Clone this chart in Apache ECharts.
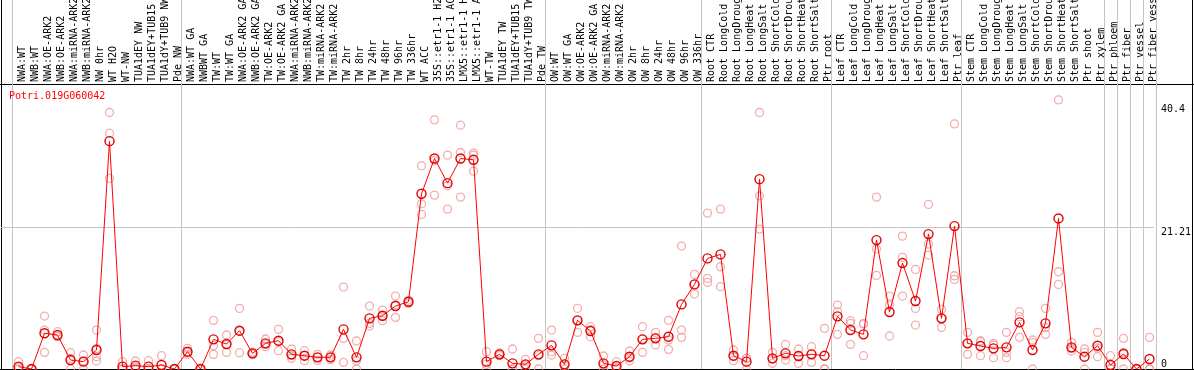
<!DOCTYPE html>
<html><head><meta charset="utf-8">
<script src="https://cdn.jsdelivr.net/npm/echarts@6/dist/echarts.min.js"></script>
<style>html,body{margin:0;padding:0;background:#fff}#c{width:1194px;height:370px}</style>
</head><body><div id="c"></div>
<script>
const geneName = 'Potri.019G060042';
const categories = [
 'NWA:WT','NWB:WT','NWA:OE-ARK2','NWB:OE-ARK2','NWA:miRNA-ARK2','NWB:miRNA-ARK2','NW 0hr','WT H2O','WT-NW','TUA1dEY NW','TUA1dEY+TUB15','TUA1dY+TUB9 NW','Pde NW',
 'NWA:WT GA','NWBWT GA','TW:WT','TW:WT GA','NWA:OE-ARK2 GA','NWB:OE-ARK2 GA','TW:OE-ARK2','TW:OE-ARK2 GA','NWA:miRNA-ARK2 GA','NWB:miRNA-ARK2 GA','TW:miRNA-ARK2','TW:miRNA-ARK2','TW 2hr','TW 8hr','TW 24hr','TW 48hr','TW 96hr','TW 336hr','WT ACC','35S::etr1-1 H2O','35S::etr1-1 ACC','LMX5::etr1-1 H2O','LMX5::etr1-1 ACC','WT-TW','TUA1dEY TW','TUA1dEY+TUB15','TUA1dY+TUB9 TW','Pde TW',
 'OW:WT','OW:WT GA','OW:OE-ARK2','OW:OE-ARK2 GA','OW:miRNA-ARK2','OW:miRNA-ARK2','OW 2hr','OW 8hr','OW 24hr','OW 48hr','OW 96hr','OW 336hr',
 'Root CTR','Root LongCold','Root LongDrought','Root LongHeat','Root LongSalt','Root ShortCold','Root ShortDrought','Root ShortHeat','Root ShortSalt','Ptr root',
 'Leaf CTR','Leaf LongCold','Leaf LongDrought','Leaf LongHeat','Leaf LongSalt','Leaf ShortCold','Leaf ShortDrought','Leaf ShortHeat','Leaf ShortSalt','Ptr leaf',
 'Stem CTR','Stem LongCold','Stem LongDrought','Stem LongHeat','Stem LongSalt','Stem ShortCold','Stem ShortDrought','Stem ShortHeat','Stem ShortSalt','Ptr shoot','Ptr xylem',
 'Ptr phloem','Ptr fiber','Ptr vessel','Ptr fiber vessel'
];
const groupStarts = [0,13,41,53,63,73,84,85,86,87];
const yTickLabels = [0, 21.21, 40.4];
const yRefLine = [21.21];
const yMax = 42.63;

const meanValues = [
 0.35,0,5.36,5.1,1.35,1.1,2.85,34.2,0.35,0.5,0.35,0.6,0,
 2.6,0,4.45,3.75,5.75,2.35,3.85,4.25,2.2,2.0,1.75,1.75,5.95,1.75,7.6,8.0,9.45,10.1,26.3,31.6,27.9,31.6,31.4,1.1,2.2,0.85,0.7,2.2,
 3.55,0.7,7.3,5.7,0.85,0.45,1.85,4.45,4.6,4.85,9.7,12.7,
 16.6,17.2,2.0,1.1,28.5,1.6,2.35,1.95,2.2,2.0,
 7.9,5.85,5.2,19.35,8.55,15.9,10.2,20.25,7.6,21.45,
 3.85,3.45,3.1,3.25,7.0,2.85,6.85,22.6,3.25,1.85,3.5,
 0.6,2.25,0,1.5
];
const repHigh = [
 1.1,0,7.95,5.6,2.45,2.1,5.85,38.5,1.1,1.2,1.25,2.0,0,
 3.1,0,7.3,5.1,9.1,2.5,4.5,5.95,3.0,2.75,2.2,2.1,12.3,4.2,9.45,8.85,10.95,10.35,30.5,37.4,32.1,36.6,32.4,2.6,2.4,3.0,1.45,4.6,
 5.85,1.6,9.1,6.35,1.95,1.1,2.7,6.35,5.5,7.3,18.45,14.2,
 23.4,24.0,2.85,1.6,38.5,2.5,3.7,3.0,3.35,6.1,
 9.6,7.25,6.85,25.8,10.95,19.95,14.95,24.7,8.95,36.8,
 5.5,4.25,3.85,5.5,8.6,4.35,9.1,40.4,4.0,3.0,5.5,
 2.0,4.6,0,4.75
];
const repMid = [
 0.3,0,5.85,4.85,1.6,1.2,3.1,35.4,0,0.3,0,0,0,
 2.5,0,3.5,3.65,5.7,2.3,3.7,4.1,2.0,2.0,1.75,1.75,4.6,1.25,6.85,7.9,9.65,10.1,24.8,31.3,27.5,32.5,32.1,0.7,2.2,0,0.6,2.0,
 2.6,0.5,7.3,5.9,0.6,0.25,1.65,4.5,4.7,4.35,5.85,12.7,
 13.6,15.35,1.9,1.6,26.0,1.5,2.0,2.0,2.25,0,
 8.6,6.85,6.75,18.0,9.6,16.75,9.1,18.75,7.6,14.0,
 3.85,4.1,3.6,2.5,7.85,3.95,6.25,14.6,3.1,2.5,3.15,
 0,2.5,0,0
];
const repLow = [
 0,0,2.5,4.9,0,0,1.85,28.6,0,0,0,0,0,
 2.2,0,2.2,2.5,2.45,2.2,3.35,2.75,1.6,1.25,1.3,1.4,1.0,0,6.45,7.25,7.75,9.85,23.2,26.1,24.0,25.8,29.7,0,2.0,0,0,0,
 2.1,0,5.5,4.85,0,0,1.2,2.5,3.6,2.95,4.75,11.25,
 13.0,12.35,1.25,0,21.0,0.85,1.35,0.85,1.0,0,
 5.2,3.7,2.0,14.05,4.95,10.95,6.6,17.1,6.25,13.45,
 2.2,2.0,1.7,1.7,4.75,0,5.2,12.7,2.7,0,1.85,
 0,0,0,0
];
const repExtra = categories.map((c, i) => i === 6 ? 1.2 : null);

const mono = 'DejaVu Sans Mono';
const isGroupStart = (idx) => groupStarts.indexOf(idx) >= 0;
const gridLine = {color: '#c4c4c4', width: 1};

const repPoints = [];
[repHigh, repMid, repLow, repExtra].forEach(arr => arr.forEach((v, i) => { if (v !== null) repPoints.push([i, v]); }));

const chart = echarts.init(document.getElementById('c'), null, {renderer: 'canvas'});
chart.setOption({
  animation: false,
  backgroundColor: '#fff',
  title: {text: geneName, left: 9, top: 91, padding: 0,
    textStyle: {color: '#ff0000', fontFamily: mono, fontSize: 10, fontWeight: 'normal'}},
  grid: [
    {left: 16, width: 1144, top: 0, height: 84},   // header labels
    {left: 12, width: 1144, top: 85, bottom: 1},   // plot
    {left: 1, right: 38, top: 85, bottom: 1},      // value axis + reference line
    {left: 12, width: 1144, top: 0, bottom: 1}     // group separators
  ],
  xAxis: [
    {gridIndex: 0, type: 'category', data: categories, boundaryGap: true,
     axisLine: {show: false}, axisTick: {show: false},
     axisLabel: {interval: 0, inside: true, rotate: 90, margin: 2,
       fontFamily: mono, fontSize: 10, color: '#000'},
     splitLine: {show: false}},
    {gridIndex: 1, type: 'category', data: categories, boundaryGap: true,
     axisLine: {show: false}, axisTick: {show: false}, axisLabel: {show: false}, splitLine: {show: false}},
    {gridIndex: 2, type: 'value', show: false, min: 0, max: 1},
    {gridIndex: 3, type: 'category', data: categories, boundaryGap: true,
     axisLine: {show: false}, axisTick: {show: false}, axisLabel: {show: false},
     splitLine: {show: true, interval: isGroupStart, lineStyle: gridLine}}
  ],
  yAxis: [
    {gridIndex: 0, type: 'value', show: false},
    {gridIndex: 1, type: 'value', min: 0, max: yMax, show: false},
    {gridIndex: 2, type: 'value', min: 0, max: yMax, position: 'right',
     axisLine: {show: false}, axisTick: {show: false, customValues: yRefLine},
     axisLabel: {customValues: yTickLabels, margin: 7, fontFamily: mono, fontSize: 10, color: '#000',
       verticalAlign: 'top', verticalAlignMinLabel: 'bottom',
       formatter: (v) => v === yTickLabels[yTickLabels.length - 1] ? '{m|' + v + '}' : String(v),
       rich: {m: {padding: [5, 0, 0, 0], fontFamily: mono, fontSize: 10, color: '#000'}}},
     splitLine: {show: true, lineStyle: gridLine}},
    {gridIndex: 3, type: 'value', show: false}
  ],
  series: [
    {type: 'scatter', xAxisIndex: 1, yAxisIndex: 1, data: repPoints, symbol: 'circle', symbolSize: 8,
     itemStyle: {color: 'rgba(0,0,0,0)', borderColor: '#f09a9a', borderWidth: 1.3}, z: 2, clip: false},
    {type: 'line', xAxisIndex: 1, yAxisIndex: 1, data: meanValues, symbol: 'circle', symbolSize: 9, showAllSymbol: true,
     lineStyle: {color: '#ff0000', width: 1},
     itemStyle: {color: 'rgba(0,0,0,0)', borderColor: '#e00000', borderWidth: 1.4}, z: 3, clip: false}
  ],
  graphic: [
    {type: 'line', shape: {x1: 0, y1: 84.5, x2: 1194, y2: 84.5}, style: {stroke: '#000', lineWidth: 1}, silent: true},
    {type: 'line', shape: {x1: 1.5, y1: 0, x2: 1.5, y2: 370}, style: {stroke: '#000', lineWidth: 1}, silent: true},
    {type: 'line', shape: {x1: 1192.5, y1: 0, x2: 1192.5, y2: 370}, style: {stroke: '#000', lineWidth: 1}, silent: true},
    {type: 'line', shape: {x1: 0, y1: 369.5, x2: 1194, y2: 369.5}, style: {stroke: '#000', lineWidth: 1}, silent: true}
  ]
});
</script></body></html>
